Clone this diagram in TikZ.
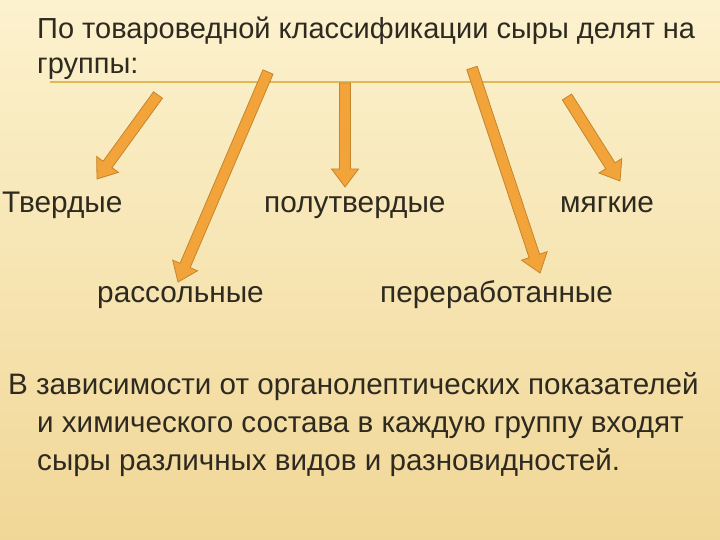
\documentclass[tikz,border=0pt]{standalone}
\usepackage{fontspec}
\setmainfont{Liberation Sans}
\usepackage{xcolor}
\usetikzlibrary{calc}
\definecolor{bgtop}{HTML}{FCF2CE}
\definecolor{bgbot}{HTML}{F1D797}
\definecolor{arrowfill}{HTML}{F2A33A}
\definecolor{arrowline}{HTML}{C4862C}
\definecolor{rulecol}{HTML}{E2B757}
\definecolor{txt}{HTML}{2E2A20}
\tikzstyle{title} = [anchor=base west, inner sep=0pt, text=txt, font=\fontsize{29}{33}\selectfont]
\tikzstyle{group} = [anchor=base west, inner sep=0pt, text=txt, font=\fontsize{29.8}{34}\selectfont]
\tikzstyle{body} = [anchor=base west, inner sep=0pt, text=txt, font=\fontsize{29.6}{34}\selectfont]
\tikzstyle{rule} = [draw=rulecol, line width=1.4pt]
\tikzstyle{fat} = [fill=arrowfill, draw=arrowline, line width=0.8pt, line join=miter]
% block arrow from #1 (tail) to #2 (tip)
\newcommand{\fatarrow}[2]{%
  \coordinate (hb) at ($(#2)!18pt!(#1)$);
  \draw [fat] ($(#1)!5.5pt!90:(#2)$) -- ($(hb)!5.5pt!90:(#2)$) -- ($(hb)!13.5pt!90:(#2)$)
    -- (#2) -- ($(hb)!13.5pt!-90:(#2)$) -- ($(hb)!5.5pt!-90:(#2)$) -- ($(#1)!5.5pt!-90:(#2)$) -- cycle;}

\begin{document}
\begin{tikzpicture}[x=1pt, y=-1pt]
\useasboundingbox (0,0) rectangle (720,540);
\fill [top color=bgtop, bottom color=bgbot] (0,0) rectangle (720,540);

\node (head1) [title] at (37,39) {По товароведной классификации сыры делят на};
\node (head2) [title] at (37,74) {группы:};
\coordinate (ruleL) at (50,82);
\coordinate (ruleR) at (720,82);
\draw [rule] (ruleL) -- (ruleR);

\node (tverd) [group] at (2,212) {Твердые};
\node (polu) [group] at (264,212) {полутвердые};
\node (myag) [group] at (560,212) {мягкие};
\node (rass) [group] at (97,302) {рассольные};
\node (perer) [group] at (380,302) {переработанные};

% arrows
\coordinate (tverd-from) at (158,95);
\coordinate (tverd-to) at (97,179);
\coordinate (rass-from) at (268,72);
\coordinate (rass-to) at (178,282);
\coordinate (polu-from) at (345,83);
\coordinate (polu-to) at (345,187);
\coordinate (perer-from) at (472,68);
\coordinate (perer-to) at (540,273);
\coordinate (myag-from) at (567,97);
\coordinate (myag-to) at (620,181);
\fatarrow{tverd-from}{tverd-to}
\fatarrow{rass-from}{rass-to}
\fatarrow{polu-from}{polu-to}
\fatarrow{perer-from}{perer-to}
\fatarrow{myag-from}{myag-to}

\node (note1) [body] at (8,394) {В зависимости от органолептических показателей};
\node (note2) [body] at (37,432) {и химического состава в каждую группу входят};
\node (note3) [body] at (37,470) {сыры различных видов и разновидностей.};
\end{tikzpicture}
\end{document}
